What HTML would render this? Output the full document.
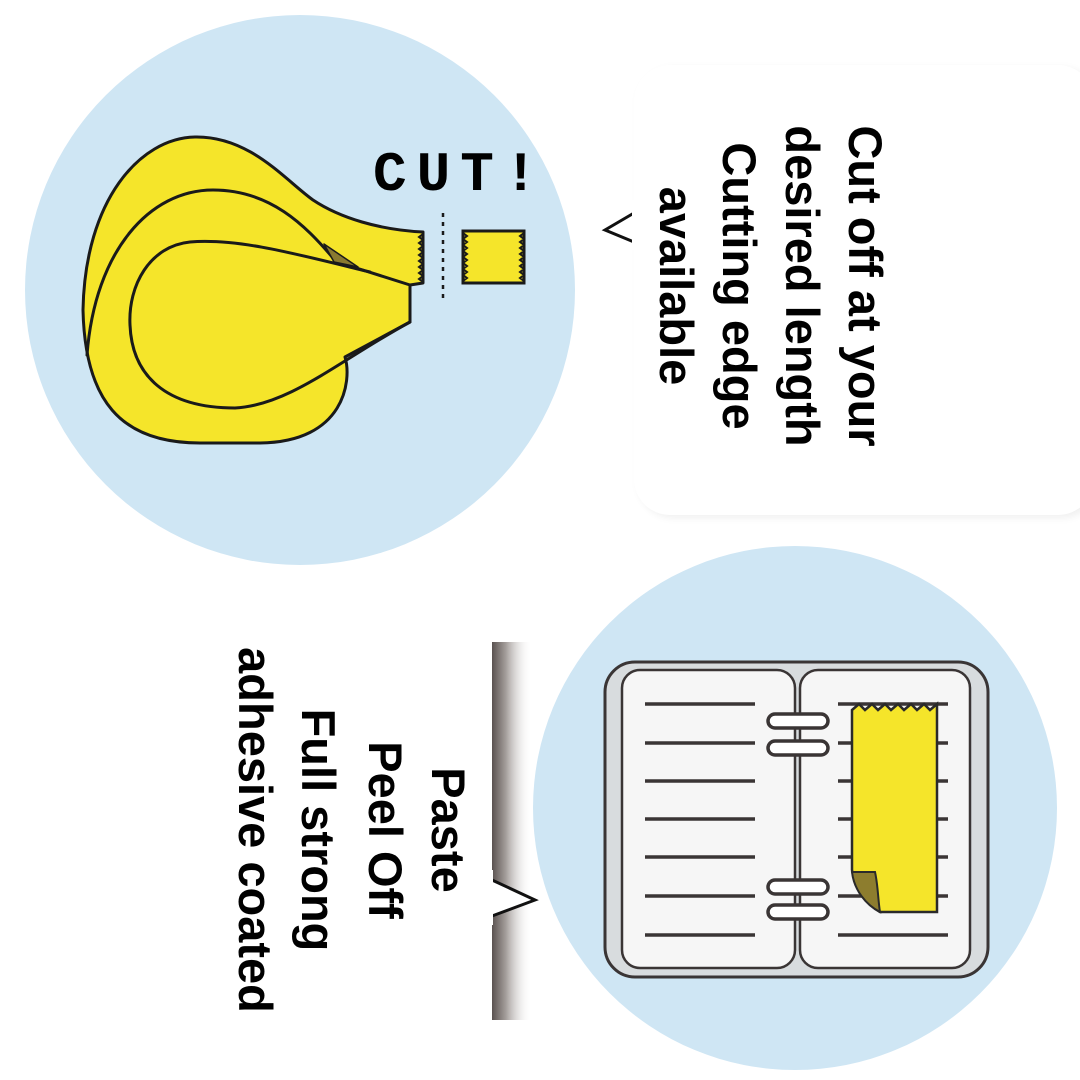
<!DOCTYPE html>
<html><head><meta charset="utf-8"><style>
html,body{margin:0;padding:0;background:#fff;width:1080px;height:1080px;overflow:hidden}
svg{display:block}
text{font-family:"Liberation Sans","DejaVu Sans",sans-serif;font-weight:bold;fill:#000}
</style></head><body>
<svg width="1080" height="1080" viewBox="0 0 1080 1080" xmlns="http://www.w3.org/2000/svg">
<defs>
<linearGradient id="sh" x1="0" x2="1" y1="0" y2="0">
<stop offset="0" stop-color="#5a5250"/><stop offset="0.35" stop-color="#a59f9c"/><stop offset="1" stop-color="#fff" stop-opacity="0"/>
</linearGradient>
<filter id="blur"><feGaussianBlur stdDeviation="4"/></filter>
</defs>
<rect width="1080" height="1080" fill="#fff"/>

<!-- top circle -->
<circle cx="300" cy="290" r="275" fill="#cfe6f4"/>
<!-- tape dispenser -->
<g stroke="#1a1a1a" stroke-width="3" stroke-linejoin="round" stroke-linecap="round">
<path d="M83,310 C85,200 140,138 195,137 C250,136 285,180 313,200 C340,218 380,230 423,232 L423,283 L410,285 L410,322 L345,357 C352,380 345,442 260,443 L200,443 C120,443 85,400 83,310 Z" fill="#f5e52a"/>
<path d="M87,355 C95,250 150,190 213,190 C270,190 305,225 333,258" fill="none"/>
<path d="M370,272 C300,255 240,238 190,242 C150,246 128,285 130,325 C132,375 165,408 235,408 C290,405 340,360 410,322" fill="none"/>
<path d="M410,285 L350,266" fill="none"/>
<path d="M324,244 L358,267 L334,262 Z" fill="#8a7a30" stroke-width="1.5"/>
</g>
<path d="M423,234 l-4,3 4,3 -4,3 4,3 -4,3 4,3 -4,3 4,3 -4,3 4,3 -4,3 4,3 -4,3 4,3 -4,3 4,3" stroke="#1a1a1a" stroke-width="2" fill="none"/>
<text x="373" y="190" style="font-family:'Liberation Mono','DejaVu Sans Mono',monospace;font-size:56px;letter-spacing:10px;font-weight:bold" fill="#1a1a1a">CUT!</text>
<line x1="443" y1="213" x2="443" y2="300" stroke="#1a1a1a" stroke-width="2.5" stroke-dasharray="4,5"/>
<rect x="463" y="231" width="61" height="52" fill="#f5e52a" stroke="#1a1a1a" stroke-width="3"/>
<path d="M463,233 l4,3 -4,3 4,3 -4,3 4,3 -4,3 4,3 -4,3 4,3 -4,3 4,3 -4,3 4,3 -4,3 4,3 -4,3 M524,233 l-4,3 4,3 -4,3 4,3 -4,3 4,3 -4,3 4,3 -4,3 4,3 -4,3 4,3 -4,3 4,3 -4,3 4,3" stroke="#1a1a1a" stroke-width="2" fill="none"/>

<!-- top bubble -->
<rect x="638" y="68" width="460" height="450" rx="36" fill="#000" opacity="0.06" filter="url(#blur)"/>
<rect x="634" y="65" width="460" height="450" rx="36" fill="#fff"/>
<path d="M634,213 L605,230 L634,242" fill="#fff" stroke="#111" stroke-width="3"/>
<rect x="632" y="200" width="6" height="50" fill="#fff"/>
<g transform="translate(770,286) rotate(90)" font-size="47" text-anchor="middle">
<text x="0" y="-79">Cut off at your</text>
<text x="0" y="-16">desired length</text>
<text x="0" y="47">Cutting edge</text>
<text x="0" y="110">available</text>
</g>

<!-- bottom circle -->
<circle cx="795" cy="808" r="262" fill="#cfe6f4"/>
<!-- notebook -->
<rect x="605" y="662" width="383" height="315" rx="30" fill="#d8dcde" stroke="#3a3535" stroke-width="3"/>
<rect x="622" y="670" width="173" height="298" rx="18" fill="#f6f6f6" stroke="#3a3535" stroke-width="2.5"/>
<rect x="800" y="670" width="170" height="298" rx="18" fill="#f6f6f6" stroke="#3a3535" stroke-width="2.5"/>
<g stroke="#3a3535" stroke-width="3.5">
<line x1="645" y1="704" x2="755" y2="704"/><line x1="645" y1="743" x2="755" y2="743"/>
<line x1="645" y1="781" x2="755" y2="781"/><line x1="645" y1="819" x2="755" y2="819"/>
<line x1="645" y1="857" x2="755" y2="857"/><line x1="645" y1="896" x2="755" y2="896"/>
<line x1="645" y1="935" x2="755" y2="935"/>
<line x1="838" y1="704" x2="948" y2="704"/><line x1="838" y1="743" x2="948" y2="743"/>
<line x1="838" y1="781" x2="948" y2="781"/><line x1="838" y1="819" x2="948" y2="819"/>
<line x1="838" y1="857" x2="948" y2="857"/><line x1="838" y1="896" x2="948" y2="896"/>
<line x1="838" y1="935" x2="948" y2="935"/>
</g>
<g fill="#fff" stroke="#3a3535" stroke-width="3.5">
<rect x="768" y="714" width="60" height="14" rx="7"/>
<rect x="768" y="741" width="60" height="14" rx="7"/>
<rect x="768" y="880" width="60" height="14" rx="7"/>
<rect x="768" y="905" width="60" height="14" rx="7"/>
</g>
<path d="M852,710 l7,-6 6,6 7,-6 6,6 7,-6 6,6 7,-6 6,6 7,-6 6,6 7,-6 6,6 7,-6 V912 H880 C868,905 855,890 852,870 Z" fill="#f5e52a" stroke="#2a2a2a" stroke-width="2.5"/>
<path d="M852,872 L875,872 C878,885 878,900 880,912 C866,905 854,890 852,872 Z" fill="#8d7d2e" stroke="#2a2a2a" stroke-width="2"/>

<!-- bottom bubble -->
<rect x="492" y="642" width="40" height="378" fill="url(#sh)"/>
<rect x="0" y="645" width="492" height="375" fill="#fff"/>
<path d="M492,880 L535,900 L492,916" fill="#fff" stroke="#111" stroke-width="3"/>
<rect x="488" y="870" width="5" height="55" fill="#fff"/>
<g transform="translate(350,830) rotate(90)" font-size="47" text-anchor="middle">
<text x="0" y="-82">Paste</text>
<text x="0" y="-19">Peel Off</text>
<text x="0" y="48">Full strong</text>
<text x="0" y="111">adhesive coated</text>
</g>
</svg>
</body></html>
